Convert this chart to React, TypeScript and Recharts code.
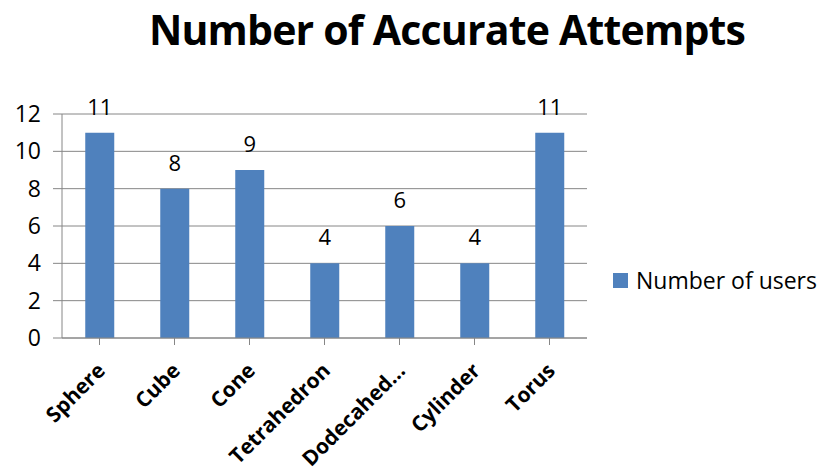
import { BarChart, Bar, XAxis, YAxis, CartesianGrid, LabelList } from "recharts";

const shapes = ["Sphere", "Cube", "Cone", "Tetrahedron", "Dodecahed...", "Cylinder", "Torus"];
const users = [11, 8, 9, 4, 6, 4, 11];
const yTicks = [0, 2, 4, 6, 8, 10, 12];

const data = shapes.map((name, i) => ({ name, users: users[i] }));

const FONT = "'Open Sans', sans-serif";
const BLUE = "#4F81BD";
const GRID = "#868686";

function ShapeTick(props: any) {
  const { x, y, payload } = props;
  return (
    <g transform={`translate(${x + 7},${y + 25})`}>
      <text
        transform="rotate(-45)"
        textAnchor="end"
        fontFamily={FONT}
        fontWeight={700}
        fontSize={21}
        fill="#000"
      >
        {payload.value}
      </text>
    </g>
  );
}

export default function App() {
  return (
    <div style={{ position: "absolute", left: 0, top: 0, width: 818, height: 470, background: "#fff" }}>
      <div
        style={{
          position: "absolute",
          left: 0,
          width: 894,
          top: 1,
          textAlign: "center",
          fontFamily: FONT,
          fontWeight: 700,
          fontSize: 41,
          letterSpacing: -0.8,
          color: "#000",
          whiteSpace: "nowrap",
        }}
      >
        Number of Accurate Attempts
      </div>
      <div
        style={{
          position: "absolute",
          left: 613,
          top: 264,
          display: "flex",
          alignItems: "center",
          fontFamily: FONT,
          fontSize: 23,
          color: "#000",
          whiteSpace: "nowrap",
        }}
      >
        <span style={{ width: 15, height: 15, background: BLUE, marginRight: 8, display: "inline-block" }} />
        Number of users
      </div>
      <BarChart
        width={818}
        height={470}
        data={data}
        margin={{ top: 114, right: 231, bottom: 0, left: 0 }}
        barCategoryGap="31%"
      >
        <CartesianGrid vertical={false} stroke={GRID} />
        <XAxis
          dataKey="name"
          stroke={GRID}
          tickSize={7}
          interval={0}
          height={132}
          tick={<ShapeTick />}
        />
        <YAxis
          domain={[0, 12]}
          ticks={yTicks}
          width={62}
          stroke={GRID}
          tickSize={9}
          tickMargin={12}
          tick={{ fontFamily: FONT, fontSize: 23, fill: "#000" }}
        />
        <Bar dataKey="users" fill={BLUE} isAnimationActive={false}>
          <LabelList dataKey="users" position="top" offset={18} fontFamily={FONT} fontSize={22} fill="#000" />
        </Bar>
      </BarChart>
    </div>
  );
}
